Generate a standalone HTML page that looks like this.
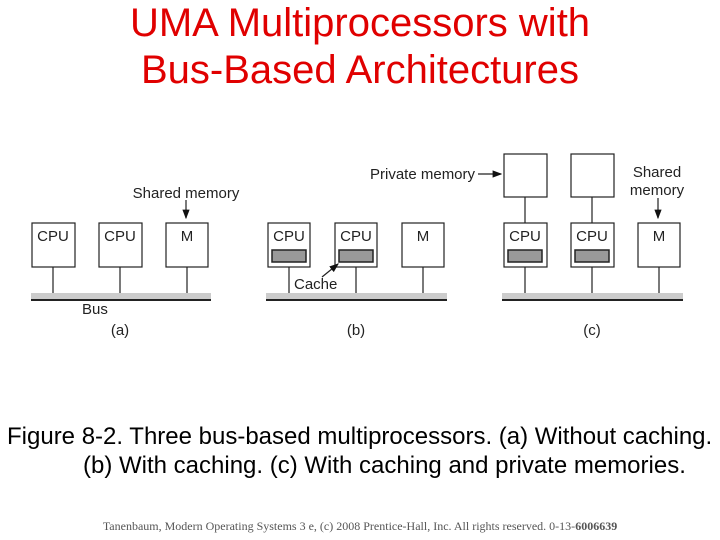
<!DOCTYPE html>
<html><head><style>
body{margin:0;width:720px;height:540px;background:#fff;position:relative;overflow:hidden;font-family:"Liberation Sans",sans-serif}
.t{position:absolute;left:0;width:720px;text-align:center;color:#e00000;font-size:40px;line-height:46px}
.c{position:absolute;font-size:24px;color:#000;white-space:nowrap;line-height:28px}
</style></head><body>
<div class="t" style="top:0px">UMA Multiprocessors with</div>
<div class="t" style="top:47px">Bus-Based Architectures</div>
<svg width="720" height="540" style="position:absolute;left:0;top:0" font-family="Liberation Sans, sans-serif">
<defs><marker id="a" markerWidth="8" markerHeight="8" refX="7" refY="4" orient="auto"><path d="M0,1 L8,4 L0,7z" fill="#111"/></marker></defs>
<g stroke="#222" stroke-width="1.2" fill="#fff">
<rect x="31" y="293" width="180" height="6" fill="#ccc" stroke="none"/><line x1="31" y1="300" x2="211" y2="300" stroke-width="2"/>
<rect x="266" y="293" width="181" height="6" fill="#ccc" stroke="none"/><line x1="266" y1="300" x2="447" y2="300" stroke-width="2"/>
<rect x="502" y="293" width="181" height="6" fill="#ccc" stroke="none"/><line x1="502" y1="300" x2="683" y2="300" stroke-width="2"/>
<path d="M53,267V293M120,267V293M187,267V293M289,267V293M356,267V293M423,267V293M525,267V293M592,267V293M659,267V293M525,197V223M592,197V223" fill="none"/>
<rect x="32" y="223" width="43" height="44"/><rect x="99" y="223" width="43" height="44"/><rect x="166" y="223" width="42" height="44"/>
<rect x="268" y="223" width="42" height="44"/><rect x="335" y="223" width="42" height="44"/><rect x="402" y="223" width="42" height="44"/>
<rect x="504" y="223" width="43" height="44"/><rect x="571" y="223" width="43" height="44"/><rect x="638" y="223" width="42" height="44"/>
<rect x="504" y="154" width="43" height="43"/><rect x="571" y="154" width="43" height="43"/>
<g fill="#999" stroke-width="1.5"><rect x="272" y="250" width="34" height="12"/><rect x="339" y="250" width="34" height="12"/><rect x="508" y="250" width="34" height="12"/><rect x="575" y="250" width="34" height="12"/></g>
<line x1="186" y1="200" x2="186" y2="218" marker-end="url(#a)"/>
<line x1="322" y1="277" x2="338" y2="264" marker-end="url(#a)"/>
<line x1="478" y1="174" x2="501" y2="174" marker-end="url(#a)"/>
<line x1="658" y1="198" x2="658" y2="218" marker-end="url(#a)"/>
</g>
<g font-size="15" fill="#222">
<text x="53" y="241" text-anchor="middle">CPU</text><text x="120" y="241" text-anchor="middle">CPU</text><text x="187" y="241" text-anchor="middle">M</text>
<text x="289" y="241" text-anchor="middle">CPU</text><text x="356" y="241" text-anchor="middle">CPU</text><text x="423" y="241" text-anchor="middle">M</text>
<text x="525" y="241" text-anchor="middle">CPU</text><text x="592" y="241" text-anchor="middle">CPU</text><text x="659" y="241" text-anchor="middle">M</text>
<text x="186" y="198" text-anchor="middle">Shared memory</text>
<text x="82" y="314">Bus</text>
<text x="120" y="335" text-anchor="middle">(a)</text>
<text x="356" y="335" text-anchor="middle">(b)</text>
<text x="592" y="335" text-anchor="middle">(c)</text>
<text x="294" y="289">Cache</text>
<text x="370" y="179">Private memory</text>
<text x="657" y="177" text-anchor="middle">Shared</text>
<text x="657" y="195" text-anchor="middle">memory</text>
</g>
</svg>
<div class="c" style="left:7px;top:423px">Figure 8-2. Three bus-based multiprocessors. (a) Without caching.</div>
<div class="c" style="left:83px;top:452px">(b) With caching. (c) With caching and private memories.</div>
<div style="position:absolute;left:0;width:720px;top:519px;text-align:center;font-family:'Liberation Serif',serif;font-size:12px;color:#555">Tanenbaum, Modern Operating Systems 3 e, (c) 2008 Prentice-Hall, Inc. All rights reserved. 0-13-<b>6006639</b></div>
</body></html>
